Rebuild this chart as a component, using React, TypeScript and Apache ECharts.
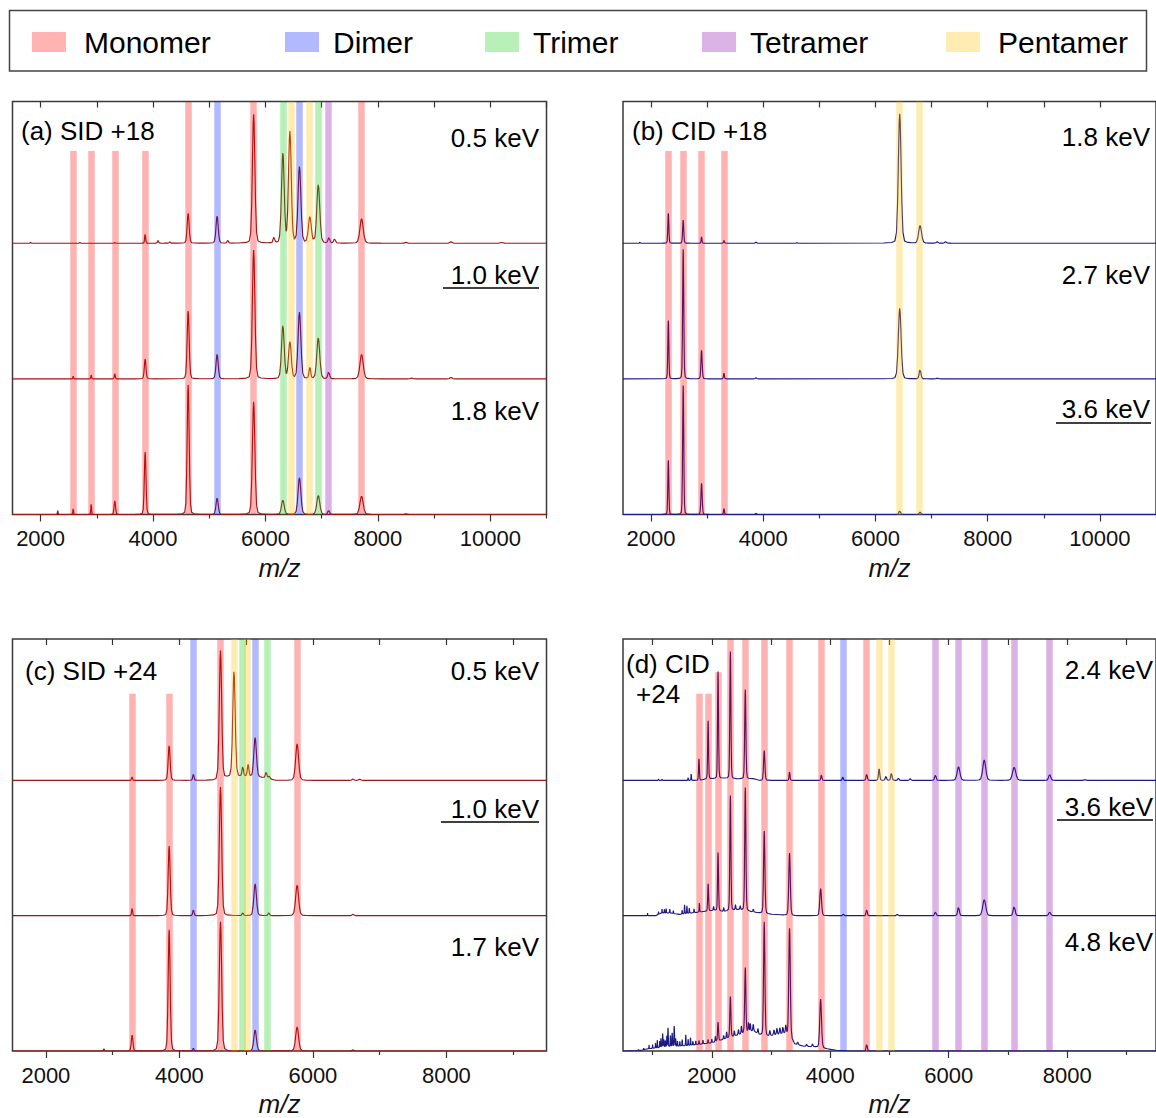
import React, { useEffect, useRef } from "react";
import * as echarts from "echarts";

const FONT = "'Liberation Sans', Arial, Helvetica, sans-serif";

// ---------- legend ----------
const LEGEND_NAMES = ["Monomer", "Dimer", "Trimer", "Tetramer", "Pentamer"];
const LEGEND_COLORS = ["rgb(255,179,179)", "rgb(179,185,255)", "rgb(184,240,184)", "rgb(220,179,230)", "rgb(255,236,179)"];
const BAND_COLORS: Record<string, string> = {
  Monomer: "rgba(255,0,0,0.3)",
  Dimer: "rgba(0,22,255,0.3)",
  Trimer: "rgba(18,205,18,0.3)",
  Tetramer: "rgba(138,0,172,0.3)",
  Pentamer: "rgba(255,192,0,0.3)",
};

// ---------- axes ----------
const TICKS_AB = [2000, 4000, 6000, 8000, 10000];
const MINOR_AB = [3000, 5000, 7000, 9000, 11000];
const TICKS_CD = [2000, 4000, 6000, 8000];
const MINOR_C = [3000, 5000, 7000, 9000];
const MINOR_D = [1000, 3000, 5000, 7000, 9000];
const YMAX = 3.045;

// ---------- panel (a) SID +18 ----------
const A_MONOMER = [2580, 2900, 3320, 3860, 4625, 5790, 7710];
const A_DIMER = [5140, 6605];
const A_TRIMER = [6310, 6940];
const A_TETRAMER = [7125];
const A_PENTAMER = [6455, 6785];
const A_SHORT = [[2580, 2.68], [2900, 2.68], [3320, 2.68], [3860, 2.68]];
const A_05 = [[1820, 0.01], [2700, 0.006], [3320, 0.006], [3860, 0.07], [4090, 0.02], [4300, 0.01], [4625, 0.22], [5140, 0.2], [5330, 0.02], [5790, 0.95], [6150, 0.04], [6310, 0.66], [6435, 0.82], [6605, 0.56], [6790, 0.19], [6940, 0.43], [7130, 0.04], [7230, 0.03], [7710, 0.18], [8500, 0.006], [9300, 0.01], [10200, 0.005]];
const A_10 = [[2580, 0.02], [2900, 0.03], [3320, 0.04], [3860, 0.145], [4625, 0.5], [5140, 0.18], [5790, 0.95], [6310, 0.39], [6435, 0.27], [6605, 0.49], [6790, 0.08], [6940, 0.3], [7125, 0.05], [7710, 0.18], [8600, 0.006], [9300, 0.01]];
const A_18 = [[2305, 0.03], [2580, 0.045], [2900, 0.08], [3320, 0.1], [3860, 0.46], [4625, 0.955], [5140, 0.12], [5790, 0.83], [6310, 0.105], [6605, 0.27], [6940, 0.14], [7125, 0.03], [7710, 0.135], [8500, 0.005]];

// ---------- panel (b) CID +18 ----------
const B_MONOMER = [2308, 2573, 2900, 3300];
const B_PENTAMER = [6432, 6780];
const B_SHORT = [[2308, 2.68], [2573, 2.68], [2900, 2.68], [3300, 2.68]];
const B_18 = [[1800, 0.01], [2308, 0.22], [2573, 0.17], [2900, 0.05], [3300, 0.02], [3870, 0.01], [4600, 0.004], [6432, 0.955], [6795, 0.13], [7100, 0.01], [7250, 0.01]];
const B_27 = [[2308, 0.43], [2573, 0.955], [2900, 0.21], [3300, 0.045], [3870, 0.01], [6432, 0.52], [6795, 0.07], [7100, 0.005]];
const B_36 = [[2308, 0.4], [2573, 0.95], [2900, 0.23], [3300, 0.047], [3870, 0.01], [6432, 0.027], [6795, 0.017]];

// ---------- panel (c) SID +24 ----------
const C_MONOMER = [3292, 3847, 4616, 5764];
const C_DIMER = [4208, 5135];
const C_PENTAMER = [4820, 5018];
const C_TRIMER = [4948, 5312];
const C_SHORT = [[3292, 2.64], [3847, 2.64]];
const C_05 = [[3292, 0.027], [3847, 0.256], [4210, 0.047], [4616, 0.95], [4818, 0.78], [4950, 0.07], [5030, 0.085], [5135, 0.29], [5300, 0.045], [5345, 0.02], [5764, 0.27], [6600, 0.01], [6700, 0.008]];
const C_05_BG = [[4550, 0], [4700, 0.02], [5000, 0.03], [5250, 0.02], [5450, 0]];
const C_10 = [[3292, 0.057], [3847, 0.515], [4210, 0.044], [4616, 0.95], [4950, 0.02], [5135, 0.234], [5340, 0.02], [5764, 0.226], [6600, 0.01]];
const C_17 = [[2870, 0.017], [3292, 0.116], [3847, 0.895], [4210, 0.02], [4616, 0.955], [5135, 0.155], [5764, 0.177], [6600, 0.008]];

// ---------- panel (d) CID +24 ----------
const D_MONOMER = [1783, 1937, 2105, 2313, 2565, 2885, 3312, 3850, 4615];
const D_DIMER = [4212];
const D_PENTAMER = [4825, 5032];
const D_TETRAMER = [5775, 6165, 6600, 7105, 7705];
const D_SHORT = [[1783, 2.64], [1937, 2.64], [2105, 2.8]];
const D_24 = [[1100, 0.012], [1160, 0.01], [1600, 0.02], [1652, 0.05], [1783, 0.16], [1937, 0.43], [2105, 0.79], [2313, 0.94], [2565, 0.66], [2885, 0.22], [3312, 0.066], [3850, 0.042], [4212, 0.025], [4615, 0.047], [4825, 0.084], [4940, 0.03], [5032, 0.054], [5150, 0.015], [5350, 0.012], [5775, 0.04], [6165, 0.1], [6600, 0.15], [7105, 0.096], [7705, 0.042], [8300, 0.005]];
const D_24_BG = [[1800, 0], [1900, 0.01], [2200, 0.015], [2450, 0.01], [2700, 0.012], [2800, 0]];
const D_36 = [[915, 0.02], [1100, 0.02], [1160, 0.03], [1200, 0.03], [1230, 0.035], [1290, 0.03], [1350, 0.02], [1500, 0.03], [1540, 0.07], [1580, 0.06], [1620, 0.04], [1700, 0.03], [1790, 0.07], [1938, 0.2], [2030, 0.03], [2105, 0.43], [2200, 0.03], [2313, 0.85], [2400, 0.04], [2480, 0.03], [2565, 0.91], [2700, 0.02], [2885, 0.61], [3312, 0.46], [3837, 0.2], [4220, 0.012], [4615, 0.044], [5130, 0.01], [5775, 0.027], [6165, 0.064], [6600, 0.118], [7105, 0.069], [7705, 0.025]];
const D_36_BG = [[1050, 0], [1150, 0.02], [1300, 0.02], [1450, 0.01], [1650, 0.02], [1850, 0.03], [2050, 0.04], [2200, 0.03], [2450, 0.045], [2650, 0.03], [2800, 0.02], [3000, 0.01], [3200, 0.005], [3400, 0]];
const D_48 = [[760, 0.01], [850, 0.015], [940, 0.03], [1000, 0.03], [1050, 0.04], [1080, 0.06], [1120, 0.05], [1140, 0.07], [1170, 0.1], [1190, 0.06], [1215, 0.05], [1240, 0.08], [1260, 0.14], [1300, 0.08], [1330, 0.1], [1365, 0.15], [1390, 0.06], [1420, 0.04], [1460, 0.04], [1500, 0.05], [1560, 0.08], [1600, 0.05], [1640, 0.06], [1680, 0.03], [1730, 0.03], [1783, 0.03], [1850, 0.03], [1937, 0.03], [2000, 0.03], [2060, 0.04], [2105, 0.14], [2200, 0.03], [2250, 0.05], [2313, 0.3], [2380, 0.04], [2450, 0.04], [2500, 0.06], [2565, 0.48], [2620, 0.07], [2650, 0.06], [2700, 0.05], [2780, 0.04], [2885, 0.84], [2980, 0.04], [3050, 0.04], [3100, 0.05], [3150, 0.05], [3200, 0.05], [3250, 0.06], [3312, 0.8], [3450, 0.02], [3600, 0.015], [3700, 0.02], [3837, 0.36], [4615, 0.05]];
const D_48_BG = [[500, 0], [800, 0.005], [900, 0.015], [1000, 0.02], [1100, 0.025], [1200, 0.03], [1400, 0.035], [1600, 0.04], [1800, 0.05], [2000, 0.06], [2150, 0.08], [2300, 0.1], [2450, 0.12], [2600, 0.14], [2700, 0.15], [2800, 0.12], [2950, 0.11], [3100, 0.12], [3250, 0.13], [3330, 0.1], [3400, 0.05], [3550, 0.035], [3750, 0.03], [3950, 0.015], [4100, 0.005], [4300, 0]];

const RED = "#9c1616";
const NAVY = "#1b1b84";

// ---------- helpers ----------
const OFFS = [-10, -5, -3, -2, -1.3, -0.7, -0.3, 0, 0.3, 0.7, 1.3, 2, 3, 5, 10];
const REL_W = 0.0045;

function bgAt(bg: number[][], x: number) {
  if (!bg.length || x <= bg[0][0] || x >= bg[bg.length - 1][0]) return 0;
  for (let i = 1; i < bg.length; i++) {
    if (x <= bg[i][0]) {
      const [x0, y0] = bg[i - 1];
      const [x1, y1] = bg[i];
      return y0 + ((y1 - y0) * (x - x0)) / (x1 - x0);
    }
  }
  return 0;
}

function spectrum(peaks: number[][], bg: number[][], xmin: number, xmax: number, offset: number) {
  const xs = new Set<number>([xmin, xmax]);
  bg.forEach(([x]) => xs.add(x));
  peaks.forEach(([m, h]) => {
    const w = m * REL_W * (h < 0.09 ? 0.6 : 1);
    OFFS.forEach((k) => xs.add(Math.round((m + k * w) * 10) / 10));
  });
  const sorted = [...xs].filter((x) => x >= xmin && x <= xmax).sort((a, b) => a - b);
  return sorted.map((x) => {
    let v = bgAt(bg, x);
    for (const [m, h] of peaks) {
      const d = (x - m) / (m * REL_W * (h < 0.09 ? 0.6 : 1));
      v += h * (0.85 * Math.exp(-0.7 * d * d) + 0.15 / (1 + d * d));
    }
    return [x, offset + v];
  });
}

function bandLines(groups: Record<string, number[]>, short: number[][]) {
  const out: any[] = [];
  Object.keys(groups).forEach((name) => {
    groups[name].forEach((x) => {
      const s = short.find((p) => p[0] === x);
      const top = s ? s[1] : YMAX;
      out.push([
        { coord: [x, 0], lineStyle: { color: BAND_COLORS[name], width: 6.5, type: "solid", opacity: 1 } },
        { coord: [x, top] },
      ]);
    });
  });
  return out;
}

const PANELS = [
  {
    grid: { left: 12.5, top: 101.5, width: 534, height: 413 },
    xmin: 1500, xmax: 11000, majors: TICKS_AB, minors: MINOR_AB, color: RED,
    spectra: [[A_05, []], [A_10, []], [A_18, []]],
    bands: { Monomer: A_MONOMER, Dimer: A_DIMER, Trimer: A_TRIMER, Tetramer: A_TETRAMER, Pentamer: A_PENTAMER },
    short: A_SHORT,
  },
  {
    grid: { left: 623, top: 101.5, width: 535, height: 413 },
    xmin: 1500, xmax: 11000, majors: TICKS_AB, minors: MINOR_AB, color: NAVY,
    spectra: [[B_18, []], [B_27, []], [B_36, []]],
    bands: { Monomer: B_MONOMER, Pentamer: B_PENTAMER },
    short: B_SHORT,
  },
  {
    grid: { left: 12.5, top: 639, width: 534, height: 412 },
    xmin: 1500, xmax: 9500, majors: TICKS_CD, minors: MINOR_C, color: RED,
    spectra: [[C_05, C_05_BG], [C_10, []], [C_17, []]],
    bands: { Monomer: C_MONOMER, Dimer: C_DIMER, Trimer: C_TRIMER, Pentamer: C_PENTAMER },
    short: C_SHORT,
  },
  {
    grid: { left: 623, top: 639, width: 535, height: 412 },
    xmin: 500, xmax: 9500, majors: TICKS_CD, minors: MINOR_D, color: NAVY,
    spectra: [[D_24, D_24_BG], [D_36, D_36_BG], [D_48, D_48_BG]],
    bands: { Monomer: D_MONOMER, Dimer: D_DIMER, Tetramer: D_TETRAMER, Pentamer: D_PENTAMER },
    short: D_SHORT,
  },
];

function buildOption() {
  const grid: any[] = [];
  const xAxis: any[] = [];
  const yAxis: any[] = [];
  const series: any[] = [];
  PANELS.forEach((p, i) => {
    grid.push({ ...p.grid, show: true, borderColor: "#3a3a3a", borderWidth: 1.5, backgroundColor: "transparent", containLabel: false });
    const all = [...p.majors, ...p.minors].sort((a, b) => a - b);
    xAxis.push({
      type: "value", gridIndex: i, min: p.xmin, max: p.xmax, position: "bottom",
      axisLine: { show: false }, splitLine: { show: false },
      axisTick: { show: true, customValues: p.majors, length: 7, lineStyle: { color: "#333", width: 1.2 } },
      axisLabel: { show: true, customValues: p.majors, fontSize: 22, color: "#111", fontFamily: FONT, margin: 13, formatter: (v: number) => String(v) },
      name: "m/z", nameLocation: "middle", nameGap: 40,
      nameTextStyle: { fontSize: 26, fontStyle: "italic", color: "#111", fontFamily: FONT },
    });
    xAxis.push({
      type: "value", gridIndex: i, min: p.xmin, max: p.xmax, position: "bottom",
      axisLine: { show: false }, splitLine: { show: false },
      axisTick: { show: true, customValues: p.minors, length: 4, lineStyle: { color: "#333", width: 1.2 } },
      axisLabel: { show: false },
    });
    xAxis.push({
      type: "value", gridIndex: i, min: p.xmin, max: p.xmax, position: "top",
      axisLine: { show: false }, splitLine: { show: false },
      axisTick: { show: true, inside: true, customValues: all, length: 6, lineStyle: { color: "#333", width: 1.2 } },
      axisLabel: { show: false },
    });
    yAxis.push({ type: "value", gridIndex: i, min: 0, max: YMAX, show: false });
    p.spectra.forEach((sp: any, k: number) => {
      const offset = 2 - k;
      const s: any = {
        type: "line", xAxisIndex: 3 * i, yAxisIndex: i,
        data: spectrum(sp[0], sp[1], p.xmin, p.xmax, offset),
        symbol: "none", showSymbol: false, silent: true,
        lineStyle: { color: p.color, width: 1.15 }, z: 3,
      };
      if (k === 2) {
        s.markLine = {
          silent: true, symbol: ["none", "none"], label: { show: false }, animation: false,
          emphasis: { disabled: true }, z: 5,
          data: bandLines(p.bands as any, p.short),
        };
      }
      series.push(s);
    });
  });

  const graphic: any[] = [];
  graphic.push({ type: "rect", shape: { x: 9.5, y: 10.5, width: 1137, height: 60.5 }, style: { fill: "none", stroke: "#444", lineWidth: 1.5 }, silent: true });
  const swatchX = [32, 285, 485, 702, 946];
  const textX = [84, 333, 533, 750, 998];
  LEGEND_NAMES.forEach((n, i) => {
    graphic.push({ type: "rect", shape: { x: swatchX[i], y: 32, width: 34, height: 20 }, style: { fill: LEGEND_COLORS[i] }, silent: true });
    graphic.push({ type: "text", x: textX[i], y: 42, style: { text: n, fontSize: 30, fontFamily: FONT, fill: "#000", verticalAlign: "middle", align: "left" }, silent: true });
  });
  const txt = (t: string, x: number, y: number, align: string) =>
    graphic.push({ type: "text", x, y, style: { text: t, fontSize: 26, fontFamily: FONT, fill: "#000", verticalAlign: "middle", align }, silent: true, z: 10 });
  const ul = (x1: number, x2: number, y: number) =>
    graphic.push({ type: "line", shape: { x1, y1: y, x2, y2: y }, style: { stroke: "#000", lineWidth: 1.6 }, silent: true, z: 10 });

  txt("(a) SID +18", 21, 131, "left");
  txt("0.5 keV", 539, 138, "right");
  txt("1.0 keV", 539, 275, "right");
  ul(443, 539, 288);
  txt("1.8 keV", 539, 411, "right");

  txt("(b) CID +18", 632, 131, "left");
  txt("1.8 keV", 1150, 137, "right");
  txt("2.7 keV", 1150, 275, "right");
  txt("3.6 keV", 1150, 409, "right");
  ul(1056, 1151, 423);

  txt("(c) SID +24", 25, 671, "left");
  txt("0.5 keV", 539, 671, "right");
  txt("1.0 keV", 539, 809, "right");
  ul(441, 539, 822);
  txt("1.7 keV", 539, 947, "right");

  txt("(d) CID", 626, 664, "left");
  txt("+24", 636, 694, "left");
  txt("2.4 keV", 1153, 670, "right");
  txt("3.6 keV", 1153, 807, "right");
  ul(1057, 1153, 820);
  txt("4.8 keV", 1153, 942, "right");

  return {
    animation: false,
    backgroundColor: "#fff",
    textStyle: { fontFamily: FONT },
    grid, xAxis, yAxis, series, graphic,
  };
}

export default function App() {
  const ref = useRef<HTMLDivElement>(null);
  useEffect(() => {
    if (!ref.current) return;
    const chart = echarts.init(ref.current, undefined, { renderer: "svg" });
    chart.setOption(buildOption() as any);
    return () => chart.dispose();
  }, []);
  return (
    <div
      ref={ref}
      style={{ position: "fixed", left: 0, top: 0, width: 1156, height: 1118, background: "#fff" }}
    />
  );
}
